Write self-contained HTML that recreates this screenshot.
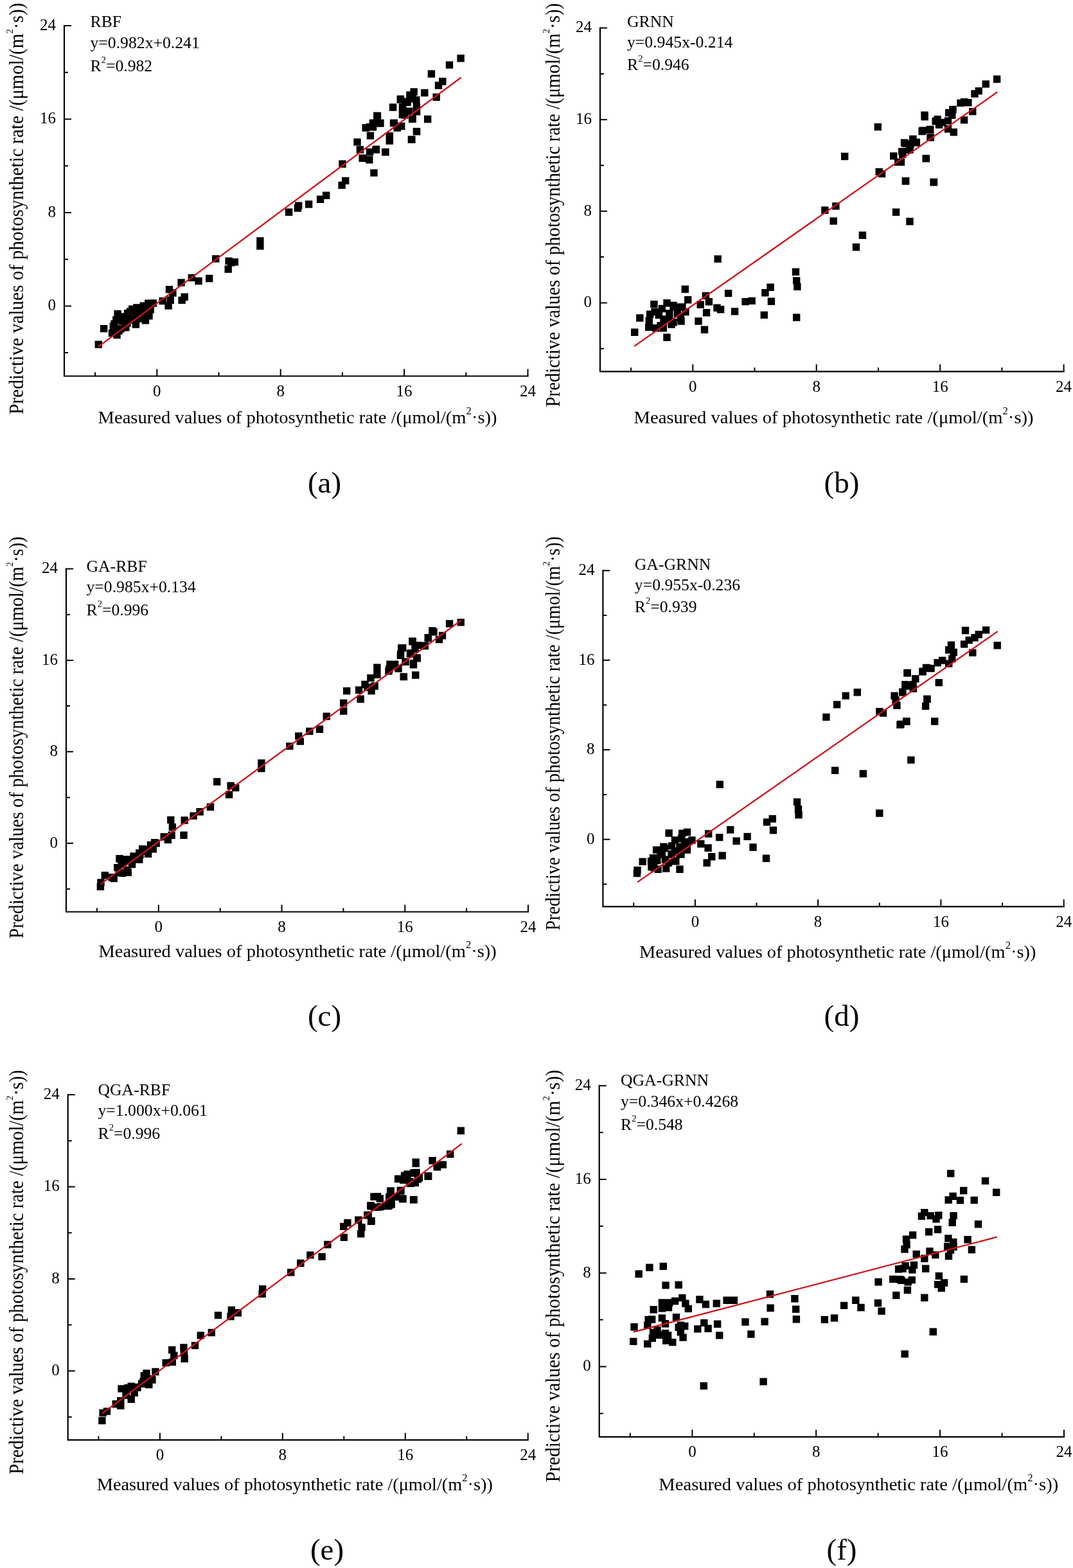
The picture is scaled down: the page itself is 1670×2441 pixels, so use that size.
<!DOCTYPE html><html><head><meta charset="utf-8"><style>html,body{margin:0;padding:0;background:#fff;}svg{display:block}</style></head><body>
<svg width="1670" height="2441" viewBox="0 0 1670 2441" font-family='"Liberation Serif", "Times New Roman", serif' fill="#000">
<rect width="1670" height="2441" fill="#fff"/>
<g><path d="M100.0 40.0V585.5H821.5" fill="none" stroke="#000" stroke-width="2.2" stroke-linecap="square"/><path d="M148.1 585.5v-6M100.0 549.1h6M244.3 585.5v-11M100.0 476.4h11M340.5 585.5v-6M100.0 403.7h6M436.7 585.5v-11M100.0 330.9h11M532.9 585.5v-6M100.0 258.2h6M629.1 585.5v-11M100.0 185.5h11M725.3 585.5v-6M100.0 112.7h6M821.5 585.5v-11M100.0 40.0h11" stroke="#000" stroke-width="2" fill="none"/><text x="244.3" y="617.0" font-size="25" text-anchor="middle">0</text><text x="87.0" y="483.2" font-size="25" text-anchor="end">0</text><text x="436.7" y="617.0" font-size="25" text-anchor="middle">8</text><text x="87.0" y="337.7" font-size="25" text-anchor="end">8</text><text x="629.1" y="617.0" font-size="25" text-anchor="middle">16</text><text x="87.0" y="192.3" font-size="25" text-anchor="end">16</text><text x="821.5" y="617.0" font-size="25" text-anchor="middle">24</text><text x="87.0" y="46.8" font-size="25" text-anchor="end">24</text><text x="140.5" y="42.0" font-size="25.7">RBF</text><text x="140.5" y="75.4" font-size="25.7">y=0.982x+0.241</text><text x="140.5" y="111.2" font-size="25.7">R<tspan dy="-13" font-size="14.5">2</tspan><tspan dy="13">=0.982</tspan></text><text x="152.60000000000002" y="659.4" font-size="27.3" textLength="621.0" lengthAdjust="spacingAndGlyphs">Measured values of photosynthetic rate /(μmol/(m<tspan dy="-14" font-size="16">2</tspan><tspan dy="14">·s))</tspan></text><text transform="translate(35.8 645.0) rotate(-90)" x="0" y="0" font-size="30.5" textLength="640.6" lengthAdjust="spacingAndGlyphs">Predictive values of photosynthetic rate /(μmol/(m<tspan dy="-16" font-size="15">2</tspan><tspan dy="16">·s))</tspan></text><text x="505" y="767.4" font-size="47" text-anchor="middle">(a)</text><path d="M147.6 530.5h11.4v11.4h-11.4zM155.9 505.9h11.4v11.4h-11.4zM176.3 515.9h11.4v11.4h-11.4zM190.1 504.0h11.4v11.4h-11.4zM205.7 499.3h11.4v11.4h-11.4zM220.8 493.0h11.4v11.4h-11.4zM226.3 486.0h11.4v11.4h-11.4zM228.4 476.3h11.4v11.4h-11.4zM232.6 466.3h11.4v11.4h-11.4zM177.4 483.1h11.4v11.4h-11.4zM193.0 482.0h11.4v11.4h-11.4zM197.0 479.3h11.4v11.4h-11.4zM200.0 475.5h11.4v11.4h-11.4zM207.2 473.3h11.4v11.4h-11.4zM217.5 470.5h11.4v11.4h-11.4zM225.1 466.4h11.4v11.4h-11.4zM232.6 466.4h11.4v11.4h-11.4zM175.1 492.2h11.4v11.4h-11.4zM172.3 498.5h11.4v11.4h-11.4zM170.7 502.3h11.4v11.4h-11.4zM168.8 512.9h11.4v11.4h-11.4zM184.3 494.3h11.4v11.4h-11.4zM194.3 489.3h11.4v11.4h-11.4zM204.3 484.3h11.4v11.4h-11.4zM214.3 481.3h11.4v11.4h-11.4zM224.3 477.3h11.4v11.4h-11.4zM182.3 506.3h11.4v11.4h-11.4zM192.3 497.3h11.4v11.4h-11.4zM209.3 490.3h11.4v11.4h-11.4zM219.3 484.3h11.4v11.4h-11.4zM179.3 509.3h11.4v11.4h-11.4zM201.3 492.3h11.4v11.4h-11.4zM188.3 487.3h11.4v11.4h-11.4zM212.3 475.3h11.4v11.4h-11.4zM247.5 462.9h11.4v11.4h-11.4zM259.5 461.6h11.4v11.4h-11.4zM256.4 470.4h11.4v11.4h-11.4zM257.8 444.9h11.4v11.4h-11.4zM263.2 450.3h11.4v11.4h-11.4zM276.4 434.3h11.4v11.4h-11.4zM281.5 456.6h11.4v11.4h-11.4zM277.4 461.7h11.4v11.4h-11.4zM292.6 426.7h11.4v11.4h-11.4zM303.3 431.8h11.4v11.4h-11.4zM320.0 427.8h11.4v11.4h-11.4zM330.0 397.2h11.4v11.4h-11.4zM350.4 400.7h11.4v11.4h-11.4zM359.6 402.2h11.4v11.4h-11.4zM349.5 413.3h11.4v11.4h-11.4zM399.2 369.3h11.4v11.4h-11.4zM399.2 377.4h11.4v11.4h-11.4zM443.9 324.6h11.4v11.4h-11.4zM459.0 314.6h11.4v11.4h-11.4zM457.7 318.3h11.4v11.4h-11.4zM474.9 312.3h11.4v11.4h-11.4zM492.9 304.5h11.4v11.4h-11.4zM502.0 298.5h11.4v11.4h-11.4zM532.0 275.7h11.4v11.4h-11.4zM526.4 282.7h11.4v11.4h-11.4zM527.3 249.6h11.4v11.4h-11.4zM576.3 263.4h11.4v11.4h-11.4zM550.3 215.4h11.4v11.4h-11.4zM554.7 227.3h11.4v11.4h-11.4zM558.5 240.5h11.4v11.4h-11.4zM569.1 243.0h11.4v11.4h-11.4zM569.8 231.1h11.4v11.4h-11.4zM579.8 226.7h11.4v11.4h-11.4zM594.3 231.1h11.4v11.4h-11.4zM570.7 205.6h11.4v11.4h-11.4zM581.1 174.5h11.4v11.4h-11.4zM563.5 193.3h11.4v11.4h-11.4zM574.8 185.8h11.4v11.4h-11.4zM586.1 185.8h11.4v11.4h-11.4zM569.8 192.1h11.4v11.4h-11.4zM600.6 205.9h11.4v11.4h-11.4zM600.6 213.5h11.4v11.4h-11.4zM606.9 185.8h11.4v11.4h-11.4zM618.8 190.8h11.4v11.4h-11.4zM612.5 193.3h11.4v11.4h-11.4zM605.9 161.3h11.4v11.4h-11.4zM617.6 149.3h11.4v11.4h-11.4zM621.3 165.7h11.4v11.4h-11.4zM636.4 148.1h11.4v11.4h-11.4zM642.7 160.7h11.4v11.4h-11.4zM636.4 179.5h11.4v11.4h-11.4zM642.7 168.2h11.4v11.4h-11.4zM623.9 173.3h11.4v11.4h-11.4zM660.0 179.8h11.4v11.4h-11.4zM642.7 199.0h11.4v11.4h-11.4zM635.2 211.6h11.4v11.4h-11.4zM673.5 145.6h11.4v11.4h-11.4zM711.4 85.1h11.4v11.4h-11.4zM693.8 95.4h11.4v11.4h-11.4zM665.7 109.3h11.4v11.4h-11.4zM683.1 121.0h11.4v11.4h-11.4zM676.8 127.3h11.4v11.4h-11.4zM655.1 138.8h11.4v11.4h-11.4zM638.5 137.3h11.4v11.4h-11.4zM632.2 142.3h11.4v11.4h-11.4zM617.7 148.6h11.4v11.4h-11.4zM642.2 149.9h11.4v11.4h-11.4zM620.8 161.3h11.4v11.4h-11.4zM620.8 172.5h11.4v11.4h-11.4zM642.9 167.5h11.4v11.4h-11.4zM635.9 179.5h11.4v11.4h-11.4zM581.8 175.1h11.4v11.4h-11.4zM586.3 186.3h11.4v11.4h-11.4zM607.6 185.7h11.4v11.4h-11.4zM619.0 190.8h11.4v11.4h-11.4zM600.7 206.5h11.4v11.4h-11.4zM600.7 212.8h11.4v11.4h-11.4zM642.9 199.0h11.4v11.4h-11.4zM634.7 211.5h11.4v11.4h-11.4zM594.0 231.0h11.4v11.4h-11.4zM579.3 227.3h11.4v11.4h-11.4zM574.8 192.1h11.4v11.4h-11.4zM624.6 152.4h11.4v11.4h-11.4zM628.4 153.7h11.4v11.4h-11.4zM630.9 167.5h11.4v11.4h-11.4zM354.0 403.1h11.4v11.4h-11.4z" fill="#000"/><line x1="152.5" y1="540.2" x2="717.7" y2="120.5" stroke="#cc1418" stroke-width="2.3"/></g>
<g><path d="M934.0 43.6V578.3H1655.6" fill="none" stroke="#000" stroke-width="2.2" stroke-linecap="square"/><path d="M982.1 578.3v-6M934.0 542.7h6M1078.3 578.3v-11M934.0 471.4h11M1174.5 578.3v-6M934.0 400.1h6M1270.7 578.3v-11M934.0 328.8h11M1367.0 578.3v-6M934.0 257.5h6M1463.2 578.3v-11M934.0 186.2h11M1559.4 578.3v-6M934.0 114.9h6M1655.6 578.3v-11M934.0 43.6h11" stroke="#000" stroke-width="2" fill="none"/><text x="1078.3" y="609.8" font-size="25" text-anchor="middle">0</text><text x="921.0" y="478.2" font-size="25" text-anchor="end">0</text><text x="1270.7" y="609.8" font-size="25" text-anchor="middle">8</text><text x="921.0" y="335.6" font-size="25" text-anchor="end">8</text><text x="1463.2" y="609.8" font-size="25" text-anchor="middle">16</text><text x="921.0" y="193.0" font-size="25" text-anchor="end">16</text><text x="1655.6" y="609.8" font-size="25" text-anchor="middle">24</text><text x="921.0" y="50.4" font-size="25" text-anchor="end">24</text><text x="976.0" y="41.8" font-size="25.7">GRNN</text><text x="976.0" y="74.1" font-size="25.7">y=0.945x-0.214</text><text x="976.0" y="109.3" font-size="25.7">R<tspan dy="-13" font-size="14.5">2</tspan><tspan dy="13">=0.946</tspan></text><text x="986.5999999999999" y="659.4" font-size="27.3" textLength="622.0" lengthAdjust="spacingAndGlyphs">Measured values of photosynthetic rate /(μmol/(m<tspan dy="-14" font-size="16">2</tspan><tspan dy="14">·s))</tspan></text><text transform="translate(870.8 633.5) rotate(-90)" x="0" y="0" font-size="30.5" textLength="628.6" lengthAdjust="spacingAndGlyphs">Predictive values of photosynthetic rate /(μmol/(m<tspan dy="-16" font-size="15">2</tspan><tspan dy="16">·s))</tspan></text><text x="1310" y="767.4" font-size="47" text-anchor="middle">(b)</text><path d="M982.0 511.5h11.4v11.4h-11.4zM990.1 489.3h11.4v11.4h-11.4zM1012.2 467.9h11.4v11.4h-11.4zM1032.3 519.5h11.4v11.4h-11.4zM1060.6 444.6h11.4v11.4h-11.4zM1005.9 483.6h11.4v11.4h-11.4zM1004.0 503.7h11.4v11.4h-11.4zM1014.7 505.0h11.4v11.4h-11.4zM1026.6 505.0h11.4v11.4h-11.4zM1032.3 466.0h11.4v11.4h-11.4zM1024.7 474.8h11.4v11.4h-11.4zM1028.5 491.2h11.4v11.4h-11.4zM1042.3 472.3h11.4v11.4h-11.4zM1042.3 496.2h11.4v11.4h-11.4zM1053.7 488.6h11.4v11.4h-11.4zM1056.2 472.3h11.4v11.4h-11.4zM1061.2 479.8h11.4v11.4h-11.4zM1065.0 461.0h11.4v11.4h-11.4zM1013.4 479.8h11.4v11.4h-11.4zM1036.1 482.3h11.4v11.4h-11.4zM1004.6 493.7h11.4v11.4h-11.4zM1092.7 454.7h11.4v11.4h-11.4zM1084.5 468.5h11.4v11.4h-11.4zM1097.7 464.1h11.4v11.4h-11.4zM1093.9 481.1h11.4v11.4h-11.4zM1081.3 494.3h11.4v11.4h-11.4zM1090.8 507.5h11.4v11.4h-11.4zM1110.3 473.5h11.4v11.4h-11.4zM1115.9 476.1h11.4v11.4h-11.4zM1127.9 450.9h11.4v11.4h-11.4zM1137.9 479.2h11.4v11.4h-11.4zM1154.4 463.9h11.4v11.4h-11.4zM1111.5 397.4h11.4v11.4h-11.4zM1164.5 462.7h11.4v11.4h-11.4zM1193.4 441.5h11.4v11.4h-11.4zM1185.2 450.1h11.4v11.4h-11.4zM1194.7 463.5h11.4v11.4h-11.4zM1183.6 484.7h11.4v11.4h-11.4zM1232.8 417.6h11.4v11.4h-11.4zM1234.0 431.2h11.4v11.4h-11.4zM1235.2 440.7h11.4v11.4h-11.4zM1234.0 488.5h11.4v11.4h-11.4zM1291.5 338.4h11.4v11.4h-11.4zM1326.8 379.0h11.4v11.4h-11.4zM1336.7 360.5h11.4v11.4h-11.4zM1278.2 321.5h11.4v11.4h-11.4zM1295.2 315.2h11.4v11.4h-11.4zM1309.0 237.8h11.4v11.4h-11.4zM1360.6 191.9h11.4v11.4h-11.4zM1362.5 261.7h11.4v11.4h-11.4zM1366.9 264.9h11.4v11.4h-11.4zM1388.9 324.6h11.4v11.4h-11.4zM1410.3 339.1h11.4v11.4h-11.4zM1404.0 276.4h11.4v11.4h-11.4zM1435.4 241.0h11.4v11.4h-11.4zM1447.4 277.7h11.4v11.4h-11.4zM1385.1 237.2h11.4v11.4h-11.4zM1392.0 246.6h11.4v11.4h-11.4zM1399.0 234.7h11.4v11.4h-11.4zM1403.3 217.7h11.4v11.4h-11.4zM1415.3 210.8h11.4v11.4h-11.4zM1420.3 215.8h11.4v11.4h-11.4zM1410.3 227.1h11.4v11.4h-11.4zM1433.5 176.2h11.4v11.4h-11.4zM1430.4 197.6h11.4v11.4h-11.4zM1441.7 195.7h11.4v11.4h-11.4zM1442.3 208.3h11.4v11.4h-11.4zM1450.5 183.1h11.4v11.4h-11.4zM1545.9 117.6h11.4v11.4h-11.4zM1528.6 125.2h11.4v11.4h-11.4zM1517.6 135.9h11.4v11.4h-11.4zM1511.3 140.3h11.4v11.4h-11.4zM1494.9 152.9h11.4v11.4h-11.4zM1501.2 154.1h11.4v11.4h-11.4zM1489.3 154.7h11.4v11.4h-11.4zM1508.1 167.9h11.4v11.4h-11.4zM1494.9 181.2h11.4v11.4h-11.4zM1477.3 164.8h11.4v11.4h-11.4zM1471.0 169.8h11.4v11.4h-11.4zM1476.1 173.6h11.4v11.4h-11.4zM1478.6 200.0h11.4v11.4h-11.4zM1469.8 195.0h11.4v11.4h-11.4zM1453.4 179.9h11.4v11.4h-11.4zM1461.0 184.9h11.4v11.4h-11.4zM1455.9 188.7h11.4v11.4h-11.4zM1469.8 182.4h11.4v11.4h-11.4zM1433.3 173.6h11.4v11.4h-11.4zM1429.5 198.8h11.4v11.4h-11.4zM1442.1 196.3h11.4v11.4h-11.4zM1442.7 208.2h11.4v11.4h-11.4zM1415.1 211.3h11.4v11.4h-11.4zM1420.7 216.4h11.4v11.4h-11.4zM1401.8 216.4h11.4v11.4h-11.4zM1409.3 227.7h11.4v11.4h-11.4zM1398.1 230.2h11.4v11.4h-11.4zM1396.8 246.6h11.4v11.4h-11.4zM1435.8 240.9h11.4v11.4h-11.4zM1403.7 276.1h11.4v11.4h-11.4zM1447.8 278.0h11.4v11.4h-11.4zM1019.7 484.9h11.4v11.4h-11.4zM1027.3 493.7h11.4v11.4h-11.4zM1048.6 472.3h11.4v11.4h-11.4zM1048.6 482.3h11.4v11.4h-11.4zM1036.1 491.2h11.4v11.4h-11.4zM1042.3 469.8h11.4v11.4h-11.4zM1039.3 499.3h11.4v11.4h-11.4zM1054.3 494.3h11.4v11.4h-11.4zM1022.3 501.3h11.4v11.4h-11.4zM1411.3 219.5h11.4v11.4h-11.4z" fill="#000"/><line x1="987.0" y1="539.1" x2="1552.2" y2="143.3" stroke="#cc1418" stroke-width="2.3"/></g>
<g><path d="M103.0 885.5V1419.5H822.0" fill="none" stroke="#000" stroke-width="2.2" stroke-linecap="square"/><path d="M150.9 1419.5v-6M103.0 1383.9h6M246.8 1419.5v-11M103.0 1312.7h11M342.7 1419.5v-6M103.0 1241.5h6M438.5 1419.5v-11M103.0 1170.3h11M534.4 1419.5v-6M103.0 1099.1h6M630.3 1419.5v-11M103.0 1027.9h11M726.1 1419.5v-6M103.0 956.7h6M822.0 1419.5v-11M103.0 885.5h11" stroke="#000" stroke-width="2" fill="none"/><text x="246.8" y="1451.0" font-size="25" text-anchor="middle">0</text><text x="90.0" y="1319.5" font-size="25" text-anchor="end">0</text><text x="438.5" y="1451.0" font-size="25" text-anchor="middle">8</text><text x="90.0" y="1177.1" font-size="25" text-anchor="end">8</text><text x="630.3" y="1451.0" font-size="25" text-anchor="middle">16</text><text x="90.0" y="1034.7" font-size="25" text-anchor="end">16</text><text x="822.0" y="1451.0" font-size="25" text-anchor="middle">24</text><text x="90.0" y="892.3" font-size="25" text-anchor="end">24</text><text x="134.5" y="890.2" font-size="25.7">GA-RBF</text><text x="134.5" y="921.6" font-size="25.7">y=0.985x+0.134</text><text x="134.5" y="957.5" font-size="25.7">R<tspan dy="-13" font-size="14.5">2</tspan><tspan dy="13">=0.996</tspan></text><text x="153.5" y="1489.6" font-size="27.3" textLength="619.3" lengthAdjust="spacingAndGlyphs">Measured values of photosynthetic rate /(μmol/(m<tspan dy="-14" font-size="16">2</tspan><tspan dy="14">·s))</tspan></text><text transform="translate(35.8 1460.9) rotate(-90)" x="0" y="0" font-size="30.5" textLength="625.7" lengthAdjust="spacingAndGlyphs">Predictive values of photosynthetic rate /(μmol/(m<tspan dy="-16" font-size="15">2</tspan><tspan dy="16">·s))</tspan></text><text x="505" y="1597.4" font-size="47" text-anchor="middle">(c)</text><path d="M157.6 1356.9h11.4v11.4h-11.4zM151.3 1368.2h11.4v11.4h-11.4zM150.7 1374.5h11.4v11.4h-11.4zM171.5 1361.9h11.4v11.4h-11.4zM177.1 1344.9h11.4v11.4h-11.4zM180.3 1331.1h11.4v11.4h-11.4zM192.2 1348.7h11.4v11.4h-11.4zM191.0 1332.3h11.4v11.4h-11.4zM199.8 1339.9h11.4v11.4h-11.4zM202.3 1327.3h11.4v11.4h-11.4zM211.1 1322.3h11.4v11.4h-11.4zM211.1 1332.3h11.4v11.4h-11.4zM216.1 1316.0h11.4v11.4h-11.4zM224.9 1323.5h11.4v11.4h-11.4zM228.7 1309.7h11.4v11.4h-11.4zM235.0 1305.9h11.4v11.4h-11.4zM232.5 1316.0h11.4v11.4h-11.4zM184.7 1353.7h11.4v11.4h-11.4zM183.3 1340.3h11.4v11.4h-11.4zM206.3 1330.3h11.4v11.4h-11.4zM221.3 1319.3h11.4v11.4h-11.4zM249.5 1297.1h11.4v11.4h-11.4zM255.7 1301.5h11.4v11.4h-11.4zM260.1 1270.7h11.4v11.4h-11.4zM262.7 1282.0h11.4v11.4h-11.4zM261.4 1294.6h11.4v11.4h-11.4zM280.3 1294.6h11.4v11.4h-11.4zM281.5 1271.3h11.4v11.4h-11.4zM295.4 1264.4h11.4v11.4h-11.4zM305.4 1258.1h11.4v11.4h-11.4zM321.8 1250.6h11.4v11.4h-11.4zM332.0 1211.3h11.4v11.4h-11.4zM353.4 1217.6h11.4v11.4h-11.4zM361.0 1220.7h11.4v11.4h-11.4zM350.9 1231.4h11.4v11.4h-11.4zM401.2 1182.3h11.4v11.4h-11.4zM401.2 1190.5h11.4v11.4h-11.4zM445.2 1155.9h11.4v11.4h-11.4zM459.1 1140.2h11.4v11.4h-11.4zM461.6 1148.4h11.4v11.4h-11.4zM476.1 1132.7h11.4v11.4h-11.4zM491.8 1129.5h11.4v11.4h-11.4zM502.6 1109.5h11.4v11.4h-11.4zM529.0 1088.8h11.4v11.4h-11.4zM529.0 1101.3h11.4v11.4h-11.4zM534.0 1069.9h11.4v11.4h-11.4zM555.4 1082.5h11.4v11.4h-11.4zM552.9 1068.6h11.4v11.4h-11.4zM562.3 1059.8h11.4v11.4h-11.4zM571.2 1049.8h11.4v11.4h-11.4zM572.4 1069.9h11.4v11.4h-11.4zM577.4 1062.3h11.4v11.4h-11.4zM581.2 1033.4h11.4v11.4h-11.4zM581.2 1044.7h11.4v11.4h-11.4zM566.3 1064.3h11.4v11.4h-11.4zM600.1 1035.9h11.4v11.4h-11.4zM601.3 1028.4h11.4v11.4h-11.4zM608.9 1028.4h11.4v11.4h-11.4zM619.0 1003.2h11.4v11.4h-11.4zM617.7 1014.6h11.4v11.4h-11.4zM625.3 1024.6h11.4v11.4h-11.4zM636.6 993.2h11.4v11.4h-11.4zM640.3 1004.5h11.4v11.4h-11.4zM637.8 1027.1h11.4v11.4h-11.4zM642.9 1018.3h11.4v11.4h-11.4zM632.8 1012.0h11.4v11.4h-11.4zM655.4 999.5h11.4v11.4h-11.4zM660.5 986.9h11.4v11.4h-11.4zM669.3 978.1h11.4v11.4h-11.4zM622.7 1047.9h11.4v11.4h-11.4zM641.0 1045.4h11.4v11.4h-11.4zM711.5 963.2h11.4v11.4h-11.4zM693.9 965.2h11.4v11.4h-11.4zM667.2 976.3h11.4v11.4h-11.4zM660.7 987.9h11.4v11.4h-11.4zM682.8 983.8h11.4v11.4h-11.4zM677.8 989.9h11.4v11.4h-11.4zM636.1 992.4h11.4v11.4h-11.4zM645.6 998.9h11.4v11.4h-11.4zM655.7 999.9h11.4v11.4h-11.4zM621.0 1003.0h11.4v11.4h-11.4zM617.9 1013.0h11.4v11.4h-11.4zM633.5 1011.0h11.4v11.4h-11.4zM643.6 1019.0h11.4v11.4h-11.4zM637.6 1029.1h11.4v11.4h-11.4zM602.3 1030.1h11.4v11.4h-11.4zM599.3 1039.2h11.4v11.4h-11.4zM614.3 1035.1h11.4v11.4h-11.4zM622.5 1047.7h11.4v11.4h-11.4zM641.1 1045.2h11.4v11.4h-11.4zM168.3 1360.0h11.4v11.4h-11.4zM179.6 1352.5h11.4v11.4h-11.4zM184.7 1339.9h11.4v11.4h-11.4zM194.7 1334.9h11.4v11.4h-11.4zM202.3 1332.3h11.4v11.4h-11.4zM212.3 1324.8h11.4v11.4h-11.4zM219.9 1317.3h11.4v11.4h-11.4zM228.7 1314.7h11.4v11.4h-11.4zM237.5 1307.2h11.4v11.4h-11.4zM193.5 1352.5h11.4v11.4h-11.4z" fill="#000"/><line x1="156.4" y1="1376.4" x2="717.7" y2="965.8" stroke="#cc1418" stroke-width="2.3"/></g>
<g><path d="M938.4 888.3V1411.3H1655.7" fill="none" stroke="#000" stroke-width="2.2" stroke-linecap="square"/><path d="M986.2 1411.3v-6M938.4 1376.4h6M1081.9 1411.3v-11M938.4 1306.7h11M1177.5 1411.3v-6M938.4 1237.0h6M1273.1 1411.3v-11M938.4 1167.2h11M1368.8 1411.3v-6M938.4 1097.5h6M1464.4 1411.3v-11M938.4 1027.8h11M1560.1 1411.3v-6M938.4 958.0h6M1655.7 1411.3v-11M938.4 888.3h11" stroke="#000" stroke-width="2" fill="none"/><text x="1081.9" y="1442.8" font-size="25" text-anchor="middle">0</text><text x="925.4" y="1313.5" font-size="25" text-anchor="end">0</text><text x="1273.1" y="1442.8" font-size="25" text-anchor="middle">8</text><text x="925.4" y="1174.0" font-size="25" text-anchor="end">8</text><text x="1464.4" y="1442.8" font-size="25" text-anchor="middle">16</text><text x="925.4" y="1034.6" font-size="25" text-anchor="end">16</text><text x="1655.7" y="1442.8" font-size="25" text-anchor="middle">24</text><text x="925.4" y="895.1" font-size="25" text-anchor="end">24</text><text x="987.8" y="887.4" font-size="25.7">GA-GRNN</text><text x="987.8" y="918.5" font-size="25.7">y=0.955x-0.236</text><text x="987.8" y="953.1" font-size="25.7">R<tspan dy="-13" font-size="14.5">2</tspan><tspan dy="13">=0.939</tspan></text><text x="995.0999999999999" y="1490.6" font-size="27.3" textLength="617.3" lengthAdjust="spacingAndGlyphs">Measured values of photosynthetic rate /(μmol/(m<tspan dy="-14" font-size="16">2</tspan><tspan dy="14">·s))</tspan></text><text transform="translate(870.8 1448.5) rotate(-90)" x="0" y="0" font-size="30.5" textLength="613.4" lengthAdjust="spacingAndGlyphs">Predictive values of photosynthetic rate /(μmol/(m<tspan dy="-16" font-size="15">2</tspan><tspan dy="16">·s))</tspan></text><text x="1310" y="1597.4" font-size="47" text-anchor="middle">(d)</text><path d="M986.3 1348.9h11.4v11.4h-11.4zM985.7 1353.9h11.4v11.4h-11.4zM994.5 1335.7h11.4v11.4h-11.4zM1035.4 1291.3h11.4v11.4h-11.4zM1056.1 1291.7h11.4v11.4h-11.4zM1063.7 1289.8h11.4v11.4h-11.4zM1015.9 1317.4h11.4v11.4h-11.4zM1010.8 1330.0h11.4v11.4h-11.4zM1008.3 1343.9h11.4v11.4h-11.4zM1018.4 1347.6h11.4v11.4h-11.4zM1031.0 1346.4h11.4v11.4h-11.4zM1034.7 1337.6h11.4v11.4h-11.4zM1028.5 1314.9h11.4v11.4h-11.4zM1039.8 1311.2h11.4v11.4h-11.4zM1046.1 1335.1h11.4v11.4h-11.4zM1044.8 1318.7h11.4v11.4h-11.4zM1059.9 1304.9h11.4v11.4h-11.4zM1063.7 1317.4h11.4v11.4h-11.4zM1071.2 1302.3h11.4v11.4h-11.4zM1052.3 1312.4h11.4v11.4h-11.4zM1022.3 1324.3h11.4v11.4h-11.4zM1054.3 1324.3h11.4v11.4h-11.4zM1039.3 1324.3h11.4v11.4h-11.4zM1052.3 1347.6h11.4v11.4h-11.4zM1085.1 1308.0h11.4v11.4h-11.4zM1096.4 1314.3h11.4v11.4h-11.4zM1097.0 1292.3h11.4v11.4h-11.4zM1114.0 1297.9h11.4v11.4h-11.4zM1131.0 1286.0h11.4v11.4h-11.4zM1140.4 1303.6h11.4v11.4h-11.4zM1157.4 1296.7h11.4v11.4h-11.4zM1166.3 1313.3h11.4v11.4h-11.4zM1102.0 1328.1h11.4v11.4h-11.4zM1094.5 1337.6h11.4v11.4h-11.4zM1118.4 1326.3h11.4v11.4h-11.4zM1114.6 1215.6h11.4v11.4h-11.4zM1196.6 1269.1h11.4v11.4h-11.4zM1187.8 1274.2h11.4v11.4h-11.4zM1197.8 1286.8h11.4v11.4h-11.4zM1234.9 1242.7h11.4v11.4h-11.4zM1236.8 1254.0h11.4v11.4h-11.4zM1237.4 1262.9h11.4v11.4h-11.4zM1294.0 1193.7h11.4v11.4h-11.4zM1280.2 1110.7h11.4v11.4h-11.4zM1296.9 1091.2h11.4v11.4h-11.4zM1310.6 1077.4h11.4v11.4h-11.4zM1328.6 1072.0h11.4v11.4h-11.4zM1363.2 1101.9h11.4v11.4h-11.4zM1368.8 1104.4h11.4v11.4h-11.4zM1386.4 1077.4h11.4v11.4h-11.4zM1390.2 1092.5h11.4v11.4h-11.4zM1388.3 1084.3h11.4v11.4h-11.4zM1406.6 1042.2h11.4v11.4h-11.4zM1399.0 1072.3h11.4v11.4h-11.4zM1404.0 1062.3h11.4v11.4h-11.4zM1415.4 1063.5h11.4v11.4h-11.4zM1419.1 1051.0h11.4v11.4h-11.4zM1430.5 1039.6h11.4v11.4h-11.4zM1438.0 1034.6h11.4v11.4h-11.4zM1437.4 1082.4h11.4v11.4h-11.4zM1434.9 1093.7h11.4v11.4h-11.4zM1395.3 1122.7h11.4v11.4h-11.4zM1405.3 1117.6h11.4v11.4h-11.4zM1412.2 1177.4h11.4v11.4h-11.4zM1449.0 1117.3h11.4v11.4h-11.4zM1546.5 999.1h11.4v11.4h-11.4zM1528.9 975.2h11.4v11.4h-11.4zM1496.8 975.8h11.4v11.4h-11.4zM1517.6 982.1h11.4v11.4h-11.4zM1511.3 987.1h11.4v11.4h-11.4zM1502.5 990.9h11.4v11.4h-11.4zM1494.9 997.2h11.4v11.4h-11.4zM1508.1 1010.4h11.4v11.4h-11.4zM1474.8 998.5h11.4v11.4h-11.4zM1471.0 1006.0h11.4v11.4h-11.4zM1478.6 1009.8h11.4v11.4h-11.4zM1476.1 1019.8h11.4v11.4h-11.4zM1471.0 1027.4h11.4v11.4h-11.4zM1461.0 1022.4h11.4v11.4h-11.4zM1453.4 1026.1h11.4v11.4h-11.4zM1443.4 1034.9h11.4v11.4h-11.4zM1435.8 1033.7h11.4v11.4h-11.4zM1430.1 1040.0h11.4v11.4h-11.4zM1406.2 1041.8h11.4v11.4h-11.4zM1415.1 1060.1h11.4v11.4h-11.4zM1415.7 1066.4h11.4v11.4h-11.4zM1403.1 1060.1h11.4v11.4h-11.4zM1399.3 1071.4h11.4v11.4h-11.4zM1455.6 1056.9h11.4v11.4h-11.4zM1437.1 1082.7h11.4v11.4h-11.4zM1405.0 1117.3h11.4v11.4h-11.4zM1396.2 1121.7h11.4v11.4h-11.4zM1337.7 1198.8h11.4v11.4h-11.4zM1363.1 1260.3h11.4v11.4h-11.4zM1186.8 1330.5h11.4v11.4h-11.4zM1024.7 1322.5h11.4v11.4h-11.4zM1017.1 1333.8h11.4v11.4h-11.4zM1029.7 1332.5h11.4v11.4h-11.4zM1039.8 1323.7h11.4v11.4h-11.4zM1052.3 1323.7h11.4v11.4h-11.4zM1063.7 1309.9h11.4v11.4h-11.4zM1044.8 1302.3h11.4v11.4h-11.4zM1054.9 1299.8h11.4v11.4h-11.4zM1012.1 1345.1h11.4v11.4h-11.4zM1027.2 1312.4h11.4v11.4h-11.4zM1007.8 1335.1h11.4v11.4h-11.4z" fill="#000"/><line x1="992.0" y1="1373.4" x2="1552.8" y2="982.9" stroke="#cc1418" stroke-width="2.3"/></g>
<g><path d="M105.7 1704.3V2241.7H821.7" fill="none" stroke="#000" stroke-width="2.2" stroke-linecap="square"/><path d="M153.4 2241.7v-6M105.7 2205.9h6M248.9 2241.7v-11M105.7 2134.2h11M344.4 2241.7v-6M105.7 2062.6h6M439.8 2241.7v-11M105.7 1990.9h11M535.3 2241.7v-6M105.7 1919.3h6M630.8 2241.7v-11M105.7 1847.6h11M726.2 2241.7v-6M105.7 1776.0h6M821.7 2241.7v-11M105.7 1704.3h11" stroke="#000" stroke-width="2" fill="none"/><text x="248.9" y="2273.2" font-size="25" text-anchor="middle">0</text><text x="92.7" y="2141.0" font-size="25" text-anchor="end">0</text><text x="439.8" y="2273.2" font-size="25" text-anchor="middle">8</text><text x="92.7" y="1997.7" font-size="25" text-anchor="end">8</text><text x="630.8" y="2273.2" font-size="25" text-anchor="middle">16</text><text x="92.7" y="1854.4" font-size="25" text-anchor="end">16</text><text x="821.7" y="2273.2" font-size="25" text-anchor="middle">24</text><text x="92.7" y="1711.1" font-size="25" text-anchor="end">24</text><text x="152.5" y="1704.5" font-size="25.7">QGA-RBF</text><text x="152.5" y="1736.6" font-size="25.7">y=1.000x+0.061</text><text x="152.5" y="1772.5" font-size="25.7">R<tspan dy="-13" font-size="14.5">2</tspan><tspan dy="13">=0.996</tspan></text><text x="150.70000000000002" y="2319.8" font-size="27.3" textLength="616.3" lengthAdjust="spacingAndGlyphs">Measured values of photosynthetic rate /(μmol/(m<tspan dy="-14" font-size="16">2</tspan><tspan dy="14">·s))</tspan></text><text transform="translate(35.8 2294.9) rotate(-90)" x="0" y="0" font-size="30.5" textLength="629.4" lengthAdjust="spacingAndGlyphs">Predictive values of photosynthetic rate /(μmol/(m<tspan dy="-16" font-size="15">2</tspan><tspan dy="16">·s))</tspan></text><text x="509" y="2428" font-size="47" text-anchor="middle">(e)</text><path d="M153.2 2205.9h11.4v11.4h-11.4zM154.4 2193.9h11.4v11.4h-11.4zM160.7 2191.4h11.4v11.4h-11.4zM174.6 2180.1h11.4v11.4h-11.4zM182.1 2175.1h11.4v11.4h-11.4zM182.1 2182.6h11.4v11.4h-11.4zM183.4 2156.2h11.4v11.4h-11.4zM193.4 2154.9h11.4v11.4h-11.4zM198.5 2152.4h11.4v11.4h-11.4zM198.5 2172.5h11.4v11.4h-11.4zM203.5 2162.5h11.4v11.4h-11.4zM190.3 2166.3h11.4v11.4h-11.4zM208.3 2154.3h11.4v11.4h-11.4zM218.6 2136.1h11.4v11.4h-11.4zM214.8 2148.6h11.4v11.4h-11.4zM226.1 2149.9h11.4v11.4h-11.4zM229.9 2141.1h11.4v11.4h-11.4zM236.2 2129.8h11.4v11.4h-11.4zM222.3 2142.3h11.4v11.4h-11.4zM252.5 2115.9h11.4v11.4h-11.4zM262.6 2114.7h11.4v11.4h-11.4zM262.0 2095.8h11.4v11.4h-11.4zM265.1 2104.6h11.4v11.4h-11.4zM280.2 2092.0h11.4v11.4h-11.4zM281.5 2109.6h11.4v11.4h-11.4zM280.8 2100.3h11.4v11.4h-11.4zM297.8 2088.9h11.4v11.4h-11.4zM306.6 2073.2h11.4v11.4h-11.4zM323.6 2068.8h11.4v11.4h-11.4zM333.8 2041.9h11.4v11.4h-11.4zM354.6 2033.7h11.4v11.4h-11.4zM353.3 2043.8h11.4v11.4h-11.4zM364.6 2038.1h11.4v11.4h-11.4zM403.0 2001.0h11.4v11.4h-11.4zM402.4 2008.6h11.4v11.4h-11.4zM447.0 1975.2h11.4v11.4h-11.4zM462.1 1960.8h11.4v11.4h-11.4zM477.2 1948.2h11.4v11.4h-11.4zM495.4 1950.7h11.4v11.4h-11.4zM504.2 1931.8h11.4v11.4h-11.4zM529.6 1920.7h11.4v11.4h-11.4zM529.0 1903.7h11.4v11.4h-11.4zM535.2 1898.0h11.4v11.4h-11.4zM556.0 1915.0h11.4v11.4h-11.4zM552.2 1893.6h11.4v11.4h-11.4zM557.3 1904.9h11.4v11.4h-11.4zM566.1 1886.1h11.4v11.4h-11.4zM572.4 1894.9h11.4v11.4h-11.4zM571.7 1872.2h11.4v11.4h-11.4zM581.8 1857.1h11.4v11.4h-11.4zM577.4 1873.5h11.4v11.4h-11.4zM600.0 1867.2h11.4v11.4h-11.4zM602.5 1848.3h11.4v11.4h-11.4zM617.6 1848.3h11.4v11.4h-11.4zM621.4 1860.9h11.4v11.4h-11.4zM613.9 1829.5h11.4v11.4h-11.4zM623.9 1824.4h11.4v11.4h-11.4zM639.0 1820.7h11.4v11.4h-11.4zM632.7 1835.7h11.4v11.4h-11.4zM637.8 1862.2h11.4v11.4h-11.4zM660.4 1825.1h11.4v11.4h-11.4zM641.5 1805.6h11.4v11.4h-11.4zM674.3 1809.3h11.4v11.4h-11.4zM711.6 1754.6h11.4v11.4h-11.4zM695.0 1791.0h11.4v11.4h-11.4zM667.3 1801.1h11.4v11.4h-11.4zM683.7 1807.4h11.4v11.4h-11.4zM674.9 1811.2h11.4v11.4h-11.4zM641.5 1803.6h11.4v11.4h-11.4zM661.0 1825.6h11.4v11.4h-11.4zM614.5 1829.4h11.4v11.4h-11.4zM624.6 1825.0h11.4v11.4h-11.4zM638.4 1820.0h11.4v11.4h-11.4zM632.1 1833.8h11.4v11.4h-11.4zM644.7 1830.0h11.4v11.4h-11.4zM601.9 1848.9h11.4v11.4h-11.4zM618.3 1847.6h11.4v11.4h-11.4zM620.8 1860.2h11.4v11.4h-11.4zM600.7 1870.3h11.4v11.4h-11.4zM585.6 1860.2h11.4v11.4h-11.4zM586.8 1872.8h11.4v11.4h-11.4zM638.4 1862.1h11.4v11.4h-11.4zM640.6 1835.7h11.4v11.4h-11.4zM646.7 1827.8h11.4v11.4h-11.4zM633.5 1836.6h11.4v11.4h-11.4zM622.1 1831.3h11.4v11.4h-11.4zM642.3 1819.8h11.4v11.4h-11.4zM628.3 1822.3h11.4v11.4h-11.4zM576.3 1857.3h11.4v11.4h-11.4zM600.1 1857.7h11.4v11.4h-11.4zM610.6 1857.7h11.4v11.4h-11.4zM603.6 1869.1h11.4v11.4h-11.4zM598.3 1871.8h11.4v11.4h-11.4zM571.0 1870.9h11.4v11.4h-11.4zM582.5 1873.5h11.4v11.4h-11.4zM567.5 1885.8h11.4v11.4h-11.4zM571.9 1895.5h11.4v11.4h-11.4zM190.9 2165.0h11.4v11.4h-11.4zM207.3 2153.7h11.4v11.4h-11.4zM217.3 2144.9h11.4v11.4h-11.4zM222.3 2132.3h11.4v11.4h-11.4zM231.2 2142.3h11.4v11.4h-11.4z" fill="#000"/><line x1="158.9" y1="2200.7" x2="718.9" y2="1780.4" stroke="#cc1418" stroke-width="2.3"/></g>
<g><path d="M932.7 1690.2V2236.8H1656.0" fill="none" stroke="#000" stroke-width="2.2" stroke-linecap="square"/><path d="M980.9 2236.8v-6M932.7 2200.4h6M1077.4 2236.8v-11M932.7 2127.5h11M1173.8 2236.8v-6M932.7 2054.6h6M1270.2 2236.8v-11M932.7 1981.7h11M1366.7 2236.8v-6M932.7 1908.8h6M1463.1 2236.8v-11M932.7 1836.0h11M1559.6 2236.8v-6M932.7 1763.1h6M1656.0 2236.8v-11M932.7 1690.2h11" stroke="#000" stroke-width="2" fill="none"/><text x="1077.4" y="2268.3" font-size="25" text-anchor="middle">0</text><text x="919.7" y="2134.3" font-size="25" text-anchor="end">0</text><text x="1270.2" y="2268.3" font-size="25" text-anchor="middle">8</text><text x="919.7" y="1988.5" font-size="25" text-anchor="end">8</text><text x="1463.1" y="2268.3" font-size="25" text-anchor="middle">16</text><text x="919.7" y="1842.8" font-size="25" text-anchor="end">16</text><text x="1656.0" y="2268.3" font-size="25" text-anchor="middle">24</text><text x="919.7" y="1697.0" font-size="25" text-anchor="end">24</text><text x="966.0" y="1689.5" font-size="25.7">QGA-GRNN</text><text x="966.0" y="1722.9" font-size="25.7">y=0.346x+0.4268</text><text x="966.0" y="1758.7" font-size="25.7">R<tspan dy="-13" font-size="14.5">2</tspan><tspan dy="13">=0.548</tspan></text><text x="1025.3" y="2319.8" font-size="27.3" textLength="622.0" lengthAdjust="spacingAndGlyphs">Measured values of photosynthetic rate /(μmol/(m<tspan dy="-14" font-size="16">2</tspan><tspan dy="14">·s))</tspan></text><text transform="translate(870.8 2307.2) rotate(-90)" x="0" y="0" font-size="30.5" textLength="641.7" lengthAdjust="spacingAndGlyphs">Predictive values of photosynthetic rate /(μmol/(m<tspan dy="-16" font-size="15">2</tspan><tspan dy="16">·s))</tspan></text><text x="1310" y="2428" font-size="47" text-anchor="middle">(f)</text><path d="M988.5 1977.6h11.4v11.4h-11.4zM1005.2 1967.6h11.4v11.4h-11.4zM1026.6 1965.7h11.4v11.4h-11.4zM1030.4 1995.2h11.4v11.4h-11.4zM1050.5 1994.6h11.4v11.4h-11.4zM1011.5 2033.0h11.4v11.4h-11.4zM1024.7 2022.3h11.4v11.4h-11.4zM1024.7 2031.1h11.4v11.4h-11.4zM1036.1 2022.3h11.4v11.4h-11.4zM1044.9 2019.8h11.4v11.4h-11.4zM1056.2 2014.7h11.4v11.4h-11.4zM1061.2 2023.5h11.4v11.4h-11.4zM1065.6 2031.7h11.4v11.4h-11.4zM1034.8 2029.8h11.4v11.4h-11.4zM1083.2 2017.3h11.4v11.4h-11.4zM1092.7 2024.8h11.4v11.4h-11.4zM1109.6 2023.5h11.4v11.4h-11.4zM1125.4 2018.5h11.4v11.4h-11.4zM1136.7 2018.5h11.4v11.4h-11.4zM1154.3 2052.3h11.4v11.4h-11.4zM981.3 2060.0h11.4v11.4h-11.4zM980.1 2082.7h11.4v11.4h-11.4zM1003.4 2048.7h11.4v11.4h-11.4zM1002.1 2057.5h11.4v11.4h-11.4zM1024.7 2046.2h11.4v11.4h-11.4zM1029.8 2055.0h11.4v11.4h-11.4zM1046.8 2044.9h11.4v11.4h-11.4zM1010.9 2068.8h11.4v11.4h-11.4zM1009.6 2077.6h11.4v11.4h-11.4zM1002.1 2086.4h11.4v11.4h-11.4zM1021.0 2072.6h11.4v11.4h-11.4zM1029.8 2070.1h11.4v11.4h-11.4zM1031.0 2081.4h11.4v11.4h-11.4zM1041.1 2083.9h11.4v11.4h-11.4zM1053.7 2057.5h11.4v11.4h-11.4zM1060.0 2058.8h11.4v11.4h-11.4zM1053.7 2068.2h11.4v11.4h-11.4zM1057.4 2076.4h11.4v11.4h-11.4zM1080.1 2063.2h11.4v11.4h-11.4zM1090.1 2053.7h11.4v11.4h-11.4zM1096.4 2062.5h11.4v11.4h-11.4zM1110.9 2055.6h11.4v11.4h-11.4zM1114.0 2073.2h11.4v11.4h-11.4zM1192.8 2009.1h11.4v11.4h-11.4zM1193.4 2030.5h11.4v11.4h-11.4zM1184.4 2051.8h11.4v11.4h-11.4zM1163.2 2071.3h11.4v11.4h-11.4zM1231.2 2016.0h11.4v11.4h-11.4zM1233.0 2032.4h11.4v11.4h-11.4zM1233.7 2048.1h11.4v11.4h-11.4zM1277.7 2048.7h11.4v11.4h-11.4zM1292.8 2046.2h11.4v11.4h-11.4zM1307.9 2026.7h11.4v11.4h-11.4zM1326.1 2018.5h11.4v11.4h-11.4zM1334.3 2029.8h11.4v11.4h-11.4zM1089.6 2151.8h11.4v11.4h-11.4zM1182.4 2145.2h11.4v11.4h-11.4zM1402.5 2102.2h11.4v11.4h-11.4zM1446.6 2067.5h11.4v11.4h-11.4zM1360.8 2022.8h11.4v11.4h-11.4zM1366.4 2035.4h11.4v11.4h-11.4zM1361.4 1990.1h11.4v11.4h-11.4zM1389.1 2010.8h11.4v11.4h-11.4zM1406.7 2002.7h11.4v11.4h-11.4zM1384.0 1985.7h11.4v11.4h-11.4zM1397.3 1987.6h11.4v11.4h-11.4zM1413.6 1986.9h11.4v11.4h-11.4zM1392.9 1970.0h11.4v11.4h-11.4zM1403.5 1964.9h11.4v11.4h-11.4zM1416.8 1963.7h11.4v11.4h-11.4zM1414.2 1971.2h11.4v11.4h-11.4zM1435.0 1969.3h11.4v11.4h-11.4zM1433.1 2014.6h11.4v11.4h-11.4zM1455.7 1980.7h11.4v11.4h-11.4zM1453.9 1993.9h11.4v11.4h-11.4zM1463.9 1991.3h11.4v11.4h-11.4zM1459.5 1999.5h11.4v11.4h-11.4zM1494.7 1985.7h11.4v11.4h-11.4zM1402.3 1939.1h11.4v11.4h-11.4zM1404.8 1923.4h11.4v11.4h-11.4zM1414.9 1917.1h11.4v11.4h-11.4zM1420.5 1946.7h11.4v11.4h-11.4zM1433.1 1953.6h11.4v11.4h-11.4zM1441.3 1942.3h11.4v11.4h-11.4zM1450.1 1947.9h11.4v11.4h-11.4zM1440.0 1912.1h11.4v11.4h-11.4zM1453.9 1908.3h11.4v11.4h-11.4zM1470.2 1922.2h11.4v11.4h-11.4zM1469.0 1934.7h11.4v11.4h-11.4zM1478.4 1935.4h11.4v11.4h-11.4zM1470.8 1949.8h11.4v11.4h-11.4zM1500.4 1924.0h11.4v11.4h-11.4zM1506.7 1939.8h11.4v11.4h-11.4zM1433.1 1881.9h11.4v11.4h-11.4zM1428.7 1887.6h11.4v11.4h-11.4zM1442.5 1886.9h11.4v11.4h-11.4zM1455.1 1886.3h11.4v11.4h-11.4zM1451.3 1892.0h11.4v11.4h-11.4zM1478.4 1886.9h11.4v11.4h-11.4zM1476.5 1897.6h11.4v11.4h-11.4zM1516.8 1900.1h11.4v11.4h-11.4zM1470.5 1862.3h11.4v11.4h-11.4zM1488.8 1862.9h11.4v11.4h-11.4zM1510.5 1862.7h11.4v11.4h-11.4zM1474.0 1821.2h11.4v11.4h-11.4zM1527.8 1832.7h11.4v11.4h-11.4zM1494.0 1847.8h11.4v11.4h-11.4zM1545.0 1850.6h11.4v11.4h-11.4zM1477.4 1856.6h11.4v11.4h-11.4zM1405.4 1932.0h11.4v11.4h-11.4zM1473.9 1940.3h11.4v11.4h-11.4zM1478.1 1927.9h11.4v11.4h-11.4zM1399.3 1969.3h11.4v11.4h-11.4zM1407.5 1990.2h11.4v11.4h-11.4zM1395.1 1986.0h11.4v11.4h-11.4zM1017.3 2064.9h11.4v11.4h-11.4zM1033.9 2073.2h11.4v11.4h-11.4zM1050.5 2060.7h11.4v11.4h-11.4zM1009.0 2048.3h11.4v11.4h-11.4zM1029.8 2023.3h11.4v11.4h-11.4z" fill="#000"/><line x1="985.8" y1="2073.7" x2="1551.7" y2="1925.7" stroke="#cc1418" stroke-width="2.3"/></g>
</svg></body></html>
